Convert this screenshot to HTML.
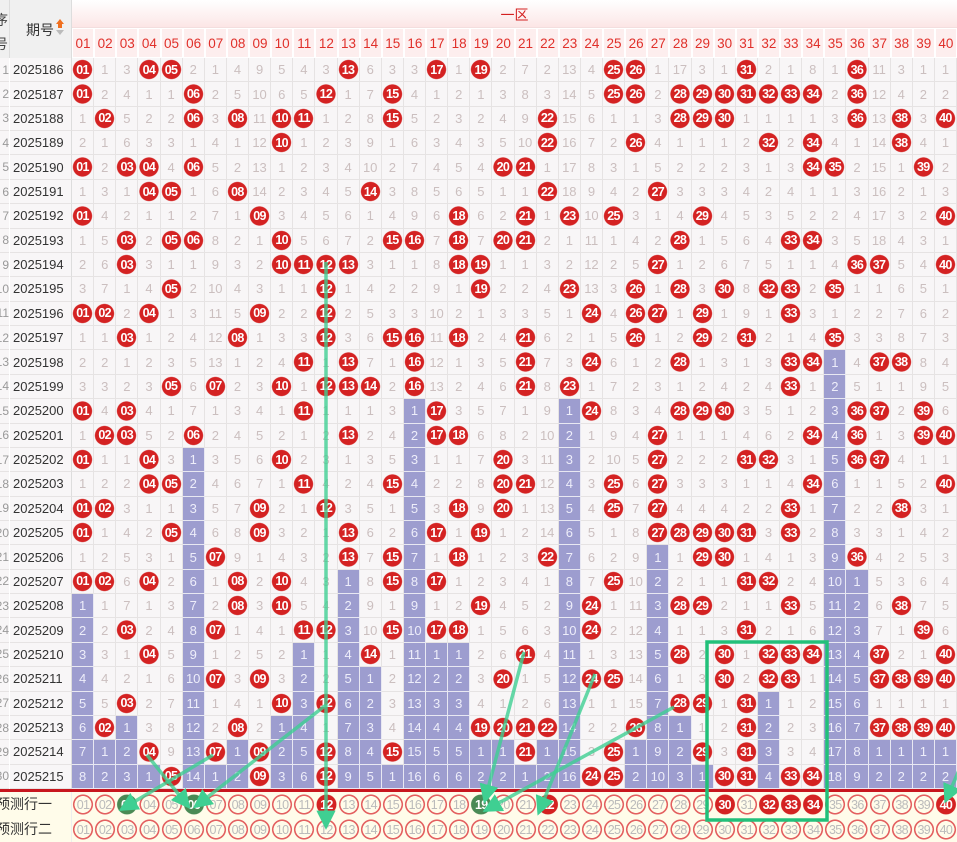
<!DOCTYPE html>
<html><head><meta charset="utf-8"><style>
*{margin:0;padding:0;box-sizing:border-box}
body{width:957px;height:842px;overflow:hidden;background:#fff;position:relative;font-family:"Liberation Sans","Noto Sans CJK SC",sans-serif}
.g{position:absolute;left:72px;top:58px;width:885px;height:731px;display:grid;grid-template-columns:repeat(40,1fr);grid-template-rows:repeat(30,1fr);grid-auto-flow:column}
.g i,.g b,.g u{display:flex;align-items:center;justify-content:center;font-style:normal;text-decoration:none;border-right:1px solid #e6e3e3;border-bottom:1px solid #e6e3e3;font-size:13px;font-weight:normal}
.g i{color:#cbbfbf;background:#f8f6f7}
.g u{background:#9d9dcf;color:#eeeefa;border-color:#e8e8f2}
.g b{color:#fff;font-weight:bold;font-size:12.5px;letter-spacing:-.6px;background:radial-gradient(circle,#d42222 9.2px,#f8f6f7 10px)}
.q{position:absolute;left:10px;top:58px;width:62px;height:731px;display:grid;grid-template-rows:repeat(30,1fr);background:#f8f6f7}
.q div{font-size:13px;color:#333;display:flex;align-items:center;padding-left:3px;border-bottom:1px solid #e6e3e3;border-right:1px solid #ddd}
.ix{position:absolute;left:-16px;top:58px;width:25px;height:731px;display:grid;grid-template-rows:repeat(30,1fr);background:#f8f6f7}
.ix div{font-size:12px;color:#999;display:flex;align-items:center;justify-content:flex-end;border-bottom:1px solid #e6e3e3}
.h1{position:absolute;left:72px;top:0;width:885px;height:28px;background:linear-gradient(#fff,#fce6e6);color:#d42020;font-size:14px;text-align:center;line-height:30px;border-bottom:1px solid #f3dede}
.h2{position:absolute;left:72px;top:28px;width:885px;height:30px;display:grid;grid-template-columns:repeat(40,1fr)}
.h2 span{color:#e0302a;font-size:13.5px;display:flex;align-items:center;justify-content:center;background:#fdeeee;border:1px solid #fff}
.lh{position:absolute;left:0;top:0;height:58px;background:#f0f0f0;border-right:1px solid #ddd}
.p{position:absolute;left:72px;width:885px;height:25px;display:grid;grid-template-columns:repeat(40,1fr);background:#fffcea}
.p span{display:flex;align-items:center;justify-content:center;font-size:12.5px;letter-spacing:-.6px}
.o{color:#bbb}
.o,.f{position:relative}
.p .o{background:radial-gradient(circle,transparent 8.3px,#e36060 8.6px,#e36060 9.8px,transparent 10.3px)}
.p .f{color:#fff;font-weight:bold;background:radial-gradient(circle,#d42222 9.6px,transparent 10.3px)}
.p .d{color:#fff;font-weight:bold;background:radial-gradient(circle,#4a8a55 9.6px,transparent 10.3px)}
.pl{position:absolute;left:-4px;width:76px;height:25px;font-size:14px;color:#333;line-height:25px;background:#fffcea;border-right:1px solid #eee}
</style></head><body>
<div class="lh" style="width:10px"><div style="position:absolute;left:-6px;top:8px;font-size:14px;color:#444;line-height:24px">序<br>号</div></div>
<div class="lh" style="left:10px;width:62px"><div style="position:absolute;left:16px;top:20px;font-size:14px;color:#333">期号</div><div style="position:absolute;left:46px;top:19px;width:0;height:0;border:4px solid transparent;border-bottom:5px solid #f07020;border-top:0"></div><div style="position:absolute;left:48px;top:24px;width:4px;height:4px;background:#f07020"></div><div style="position:absolute;left:46px;top:30px;width:0;height:0;border:4px solid transparent;border-top:5px solid #bbb;border-bottom:0"></div></div>
<div class="h1">一区</div>
<div class="h2"><span>01</span><span>02</span><span>03</span><span>04</span><span>05</span><span>06</span><span>07</span><span>08</span><span>09</span><span>10</span><span>11</span><span>12</span><span>13</span><span>14</span><span>15</span><span>16</span><span>17</span><span>18</span><span>19</span><span>20</span><span>21</span><span>22</span><span>23</span><span>24</span><span>25</span><span>26</span><span>27</span><span>28</span><span>29</span><span>30</span><span>31</span><span>32</span><span>33</span><span>34</span><span>35</span><span>36</span><span>37</span><span>38</span><span>39</span><span>40</span></div>
<div class="ix"><div>1</div><div>2</div><div>3</div><div>4</div><div>5</div><div>6</div><div>7</div><div>8</div><div>9</div><div>10</div><div>11</div><div>12</div><div>13</div><div>14</div><div>15</div><div>16</div><div>17</div><div>18</div><div>19</div><div>20</div><div>21</div><div>22</div><div>23</div><div>24</div><div>25</div><div>26</div><div>27</div><div>28</div><div>29</div><div>30</div></div>
<div class="q"><div>2025186</div><div>2025187</div><div>2025188</div><div>2025189</div><div>2025190</div><div>2025191</div><div>2025192</div><div>2025193</div><div>2025194</div><div>2025195</div><div>2025196</div><div>2025197</div><div>2025198</div><div>2025199</div><div>2025200</div><div>2025201</div><div>2025202</div><div>2025203</div><div>2025204</div><div>2025205</div><div>2025206</div><div>2025207</div><div>2025208</div><div>2025209</div><div>2025210</div><div>2025211</div><div>2025212</div><div>2025213</div><div>2025214</div><div>2025215</div></div>
<div class="g">
<b>01</b><b>01</b><i>1</i><i>2</i><b>01</b><i>1</i><b>01</b><i>1</i><i>2</i><i>3</i><b>01</b><i>1</i><i>2</i><i>3</i><b>01</b><i>1</i><b>01</b><i>1</i><b>01</b><b>01</b><i>1</i><b>01</b><u>1</u><u>2</u><u>3</u><u>4</u><u>5</u><u>6</u><u>7</u><u>8</u>
<i>1</i><i>2</i><b>02</b><i>1</i><i>2</i><i>3</i><i>4</i><i>5</i><i>6</i><i>7</i><b>02</b><i>1</i><i>2</i><i>3</i><i>4</i><b>02</b><i>1</i><i>2</i><b>02</b><i>1</i><i>2</i><b>02</b><i>1</i><i>2</i><i>3</i><i>4</i><i>5</i><b>02</b><u>1</u><u>2</u>
<i>3</i><i>4</i><i>5</i><i>6</i><b>03</b><i>1</i><i>2</i><b>03</b><b>03</b><i>1</i><i>2</i><b>03</b><i>1</i><i>2</i><b>03</b><b>03</b><i>1</i><i>2</i><i>3</i><i>4</i><i>5</i><i>6</i><i>7</i><b>03</b><i>1</i><i>2</i><b>03</b><u>1</u><u>2</u><u>3</u>
<b>04</b><i>1</i><i>2</i><i>3</i><b>04</b><b>04</b><i>1</i><i>2</i><i>3</i><i>4</i><b>04</b><i>1</i><i>2</i><i>3</i><i>4</i><i>5</i><b>04</b><b>04</b><i>1</i><i>2</i><i>3</i><b>04</b><i>1</i><i>2</i><b>04</b><i>1</i><i>2</i><i>3</i><b>04</b><u>1</u>
<b>05</b><i>1</i><i>2</i><i>3</i><i>4</i><b>05</b><i>1</i><b>05</b><i>1</i><b>05</b><i>1</i><i>2</i><i>3</i><b>05</b><i>1</i><i>2</i><i>3</i><b>05</b><i>1</i><b>05</b><i>1</i><i>2</i><i>3</i><i>4</i><i>5</i><i>6</i><i>7</i><i>8</i><i>9</i><b>05</b>
<i>2</i><b>06</b><b>06</b><i>1</i><b>06</b><i>1</i><i>2</i><b>06</b><i>1</i><i>2</i><i>3</i><i>4</i><i>5</i><i>6</i><i>7</i><b>06</b><u>1</u><u>2</u><u>3</u><u>4</u><u>5</u><u>6</u><u>7</u><u>8</u><u>9</u><u>10</u><u>11</u><u>12</u><u>13</u><u>14</u>
<i>1</i><i>2</i><i>3</i><i>4</i><i>5</i><i>6</i><i>7</i><i>8</i><i>9</i><i>10</i><i>11</i><i>12</i><i>13</i><b>07</b><i>1</i><i>2</i><i>3</i><i>4</i><i>5</i><i>6</i><b>07</b><i>1</i><i>2</i><b>07</b><i>1</i><b>07</b><i>1</i><i>2</i><b>07</b><u>1</u>
<i>4</i><i>5</i><b>08</b><i>1</i><i>2</i><b>08</b><i>1</i><i>2</i><i>3</i><i>4</i><i>5</i><b>08</b><i>1</i><i>2</i><i>3</i><i>4</i><i>5</i><i>6</i><i>7</i><i>8</i><i>9</i><b>08</b><b>08</b><i>1</i><i>2</i><i>3</i><i>4</i><b>08</b><u>1</u><u>2</u>
<i>9</i><i>10</i><i>11</i><i>12</i><i>13</i><i>14</i><b>09</b><i>1</i><i>2</i><i>3</i><b>09</b><i>1</i><i>2</i><i>3</i><i>4</i><i>5</i><i>6</i><i>7</i><b>09</b><b>09</b><i>1</i><i>2</i><i>3</i><i>4</i><i>5</i><b>09</b><i>1</i><i>2</i><b>09</b><b>09</b>
<i>5</i><i>6</i><b>10</b><b>10</b><i>1</i><i>2</i><i>3</i><b>10</b><b>10</b><i>1</i><i>2</i><i>3</i><i>4</i><b>10</b><i>1</i><i>2</i><b>10</b><i>1</i><i>2</i><i>3</i><i>4</i><b>10</b><b>10</b><i>1</i><i>2</i><i>3</i><b>10</b><u>1</u><u>2</u><u>3</u>
<i>4</i><i>5</i><b>11</b><i>1</i><i>2</i><i>3</i><i>4</i><i>5</i><b>11</b><i>1</i><i>2</i><i>3</i><b>11</b><i>1</i><b>11</b><i>1</i><i>2</i><b>11</b><i>1</i><i>2</i><i>3</i><i>4</i><i>5</i><b>11</b><u>1</u><u>2</u><u>3</u><u>4</u><u>5</u><u>6</u>
<i>3</i><b>12</b><i>1</i><i>2</i><i>3</i><i>4</i><i>5</i><i>6</i><b>12</b><b>12</b><b>12</b><b>12</b><i>1</i><b>12</b><i>1</i><i>2</i><i>3</i><i>4</i><b>12</b><i>1</i><i>2</i><i>3</i><i>4</i><b>12</b><i>1</i><i>2</i><b>12</b><i>1</i><b>12</b><b>12</b>
<b>13</b><i>1</i><i>2</i><i>3</i><i>4</i><i>5</i><i>6</i><i>7</i><b>13</b><i>1</i><i>2</i><i>3</i><b>13</b><b>13</b><i>1</i><b>13</b><i>1</i><i>2</i><i>3</i><b>13</b><b>13</b><u>1</u><u>2</u><u>3</u><u>4</u><u>5</u><u>6</u><u>7</u><u>8</u><u>9</u>
<i>6</i><i>7</i><i>8</i><i>9</i><i>10</i><b>14</b><i>1</i><i>2</i><i>3</i><i>4</i><i>5</i><i>6</i><i>7</i><b>14</b><i>1</i><i>2</i><i>3</i><i>4</i><i>5</i><i>6</i><i>7</i><i>8</i><i>9</i><i>10</i><b>14</b><u>1</u><u>2</u><u>3</u><u>4</u><u>5</u>
<i>3</i><b>15</b><b>15</b><i>1</i><i>2</i><i>3</i><i>4</i><b>15</b><i>1</i><i>2</i><i>3</i><b>15</b><i>1</i><i>2</i><i>3</i><i>4</i><i>5</i><b>15</b><i>1</i><i>2</i><b>15</b><b>15</b><i>1</i><b>15</b><i>1</i><i>2</i><i>3</i><i>4</i><b>15</b><u>1</u>
<i>3</i><i>4</i><i>5</i><i>6</i><i>7</i><i>8</i><i>9</i><b>16</b><i>1</i><i>2</i><i>3</i><b>16</b><b>16</b><b>16</b><u>1</u><u>2</u><u>3</u><u>4</u><u>5</u><u>6</u><u>7</u><u>8</u><u>9</u><u>10</u><u>11</u><u>12</u><u>13</u><u>14</u><u>15</u><u>16</u>
<b>17</b><i>1</i><i>2</i><i>3</i><i>4</i><i>5</i><i>6</i><i>7</i><i>8</i><i>9</i><i>10</i><i>11</i><i>12</i><i>13</i><b>17</b><b>17</b><i>1</i><i>2</i><i>3</i><b>17</b><i>1</i><b>17</b><i>1</i><b>17</b><u>1</u><u>2</u><u>3</u><u>4</u><u>5</u><u>6</u>
<i>1</i><i>2</i><i>3</i><i>4</i><i>5</i><i>6</i><b>18</b><b>18</b><b>18</b><i>1</i><i>2</i><b>18</b><i>1</i><i>2</i><i>3</i><b>18</b><i>1</i><i>2</i><b>18</b><i>1</i><b>18</b><i>1</i><i>2</i><b>18</b><u>1</u><u>2</u><u>3</u><u>4</u><u>5</u><u>6</u>
<b>19</b><i>1</i><i>2</i><i>3</i><i>4</i><i>5</i><i>6</i><i>7</i><b>19</b><b>19</b><i>1</i><i>2</i><i>3</i><i>4</i><i>5</i><i>6</i><i>7</i><i>8</i><i>9</i><b>19</b><i>1</i><i>2</i><b>19</b><i>1</i><i>2</i><i>3</i><i>4</i><b>19</b><u>1</u><u>2</u>
<i>2</i><i>3</i><i>4</i><i>5</i><b>20</b><i>1</i><i>2</i><b>20</b><i>1</i><i>2</i><i>3</i><i>4</i><i>5</i><i>6</i><i>7</i><i>8</i><b>20</b><b>20</b><b>20</b><i>1</i><i>2</i><i>3</i><i>4</i><i>5</i><i>6</i><b>20</b><i>1</i><b>20</b><u>1</u><u>2</u>
<i>7</i><i>8</i><i>9</i><i>10</i><b>21</b><i>1</i><b>21</b><b>21</b><i>1</i><i>2</i><i>3</i><b>21</b><b>21</b><b>21</b><i>1</i><i>2</i><i>3</i><b>21</b><i>1</i><i>2</i><i>3</i><i>4</i><i>5</i><i>6</i><b>21</b><i>1</i><i>2</i><b>21</b><b>21</b><u>1</u>
<i>2</i><i>3</i><b>22</b><b>22</b><i>1</i><b>22</b><i>1</i><i>2</i><i>3</i><i>4</i><i>5</i><i>6</i><i>7</i><i>8</i><i>9</i><i>10</i><i>11</i><i>12</i><i>13</i><i>14</i><b>22</b><i>1</i><i>2</i><i>3</i><i>4</i><i>5</i><i>6</i><b>22</b><u>1</u><u>2</u>
<i>13</i><i>14</i><i>15</i><i>16</i><i>17</i><i>18</i><b>23</b><i>1</i><i>2</i><b>23</b><i>1</i><i>2</i><i>3</i><b>23</b><u>1</u><u>2</u><u>3</u><u>4</u><u>5</u><u>6</u><u>7</u><u>8</u><u>9</u><u>10</u><u>11</u><u>12</u><u>13</u><u>14</u><u>15</u><u>16</u>
<i>4</i><i>5</i><i>6</i><i>7</i><i>8</i><i>9</i><i>10</i><i>11</i><i>12</i><i>13</i><b>24</b><i>1</i><b>24</b><i>1</i><b>24</b><i>1</i><i>2</i><i>3</i><i>4</i><i>5</i><i>6</i><i>7</i><b>24</b><b>24</b><i>1</i><b>24</b><i>1</i><i>2</i><i>3</i><b>24</b>
<b>25</b><b>25</b><i>1</i><i>2</i><i>3</i><i>4</i><b>25</b><i>1</i><i>2</i><i>3</i><i>4</i><i>5</i><i>6</i><i>7</i><i>8</i><i>9</i><i>10</i><b>25</b><b>25</b><i>1</i><i>2</i><b>25</b><i>1</i><i>2</i><i>3</i><b>25</b><i>1</i><i>2</i><b>25</b><b>25</b>
<b>26</b><b>26</b><i>1</i><b>26</b><i>1</i><i>2</i><i>3</i><i>4</i><i>5</i><b>26</b><b>26</b><b>26</b><i>1</i><i>2</i><i>3</i><i>4</i><i>5</i><i>6</i><i>7</i><i>8</i><i>9</i><i>10</i><i>11</i><i>12</i><i>13</i><i>14</i><i>15</i><b>26</b><u>1</u><u>2</u>
<i>1</i><i>2</i><i>3</i><i>4</i><i>5</i><b>27</b><i>1</i><i>2</i><b>27</b><i>1</i><b>27</b><i>1</i><i>2</i><i>3</i><i>4</i><b>27</b><b>27</b><b>27</b><b>27</b><b>27</b><u>1</u><u>2</u><u>3</u><u>4</u><u>5</u><u>6</u><u>7</u><u>8</u><u>9</u><u>10</u>
<i>17</i><b>28</b><b>28</b><i>1</i><i>2</i><i>3</i><i>4</i><b>28</b><i>1</i><b>28</b><i>1</i><i>2</i><b>28</b><i>1</i><b>28</b><i>1</i><i>2</i><i>3</i><i>4</i><b>28</b><i>1</i><i>2</i><b>28</b><i>1</i><b>28</b><i>1</i><b>28</b><u>1</u><u>2</u><u>3</u>
<i>3</i><b>29</b><b>29</b><i>1</i><i>2</i><i>3</i><b>29</b><i>1</i><i>2</i><i>3</i><b>29</b><b>29</b><i>1</i><i>2</i><b>29</b><i>1</i><i>2</i><i>3</i><i>4</i><b>29</b><b>29</b><i>1</i><b>29</b><i>1</i><i>2</i><i>3</i><b>29</b><i>1</i><b>29</b><u>1</u>
<i>1</i><b>30</b><b>30</b><i>1</i><i>2</i><i>3</i><i>4</i><i>5</i><i>6</i><b>30</b><i>1</i><i>2</i><i>3</i><i>4</i><b>30</b><i>1</i><i>2</i><i>3</i><i>4</i><b>30</b><b>30</b><i>1</i><i>2</i><i>3</i><b>30</b><b>30</b><i>1</i><i>2</i><i>3</i><b>30</b>
<b>31</b><b>31</b><i>1</i><i>2</i><i>3</i><i>4</i><i>5</i><i>6</i><i>7</i><i>8</i><i>9</i><b>31</b><i>1</i><i>2</i><i>3</i><i>4</i><b>31</b><i>1</i><i>2</i><b>31</b><i>1</i><b>31</b><i>1</i><b>31</b><i>1</i><i>2</i><b>31</b><b>31</b><b>31</b><b>31</b>
<i>2</i><b>32</b><i>1</i><b>32</b><i>1</i><i>2</i><i>3</i><i>4</i><i>5</i><b>32</b><i>1</i><i>2</i><i>3</i><i>4</i><i>5</i><i>6</i><b>32</b><i>1</i><i>2</i><i>3</i><i>4</i><b>32</b><i>1</i><i>2</i><b>32</b><b>32</b><u>1</u><u>2</u><u>3</u><u>4</u>
<i>1</i><b>33</b><i>1</i><i>2</i><i>3</i><i>4</i><i>5</i><b>33</b><i>1</i><b>33</b><b>33</b><i>1</i><b>33</b><b>33</b><i>1</i><i>2</i><i>3</i><i>4</i><b>33</b><b>33</b><i>1</i><i>2</i><b>33</b><i>1</i><b>33</b><b>33</b><i>1</i><i>2</i><i>3</i><b>33</b>
<i>8</i><b>34</b><i>1</i><b>34</b><b>34</b><i>1</i><i>2</i><b>34</b><i>1</i><i>2</i><i>3</i><i>4</i><b>34</b><i>1</i><i>2</i><b>34</b><i>1</i><b>34</b><i>1</i><i>2</i><i>3</i><i>4</i><i>5</i><i>6</i><b>34</b><i>1</i><i>2</i><i>3</i><i>4</i><b>34</b>
<i>1</i><i>2</i><i>3</i><i>4</i><b>35</b><i>1</i><i>2</i><i>3</i><i>4</i><b>35</b><i>1</i><b>35</b><u>1</u><u>2</u><u>3</u><u>4</u><u>5</u><u>6</u><u>7</u><u>8</u><u>9</u><u>10</u><u>11</u><u>12</u><u>13</u><u>14</u><u>15</u><u>16</u><u>17</u><u>18</u>
<b>36</b><b>36</b><b>36</b><i>1</i><i>2</i><i>3</i><i>4</i><i>5</i><b>36</b><i>1</i><i>2</i><i>3</i><i>4</i><i>5</i><b>36</b><b>36</b><b>36</b><i>1</i><i>2</i><i>3</i><b>36</b><u>1</u><u>2</u><u>3</u><u>4</u><u>5</u><u>6</u><u>7</u><u>8</u><u>9</u>
<i>11</i><i>12</i><i>13</i><i>14</i><i>15</i><i>16</i><i>17</i><i>18</i><b>37</b><i>1</i><i>2</i><i>3</i><b>37</b><i>1</i><b>37</b><i>1</i><b>37</b><i>1</i><i>2</i><i>3</i><i>4</i><i>5</i><i>6</i><i>7</i><b>37</b><b>37</b><i>1</i><b>37</b><u>1</u><u>2</u>
<i>3</i><i>4</i><b>38</b><b>38</b><i>1</i><i>2</i><i>3</i><i>4</i><i>5</i><i>6</i><i>7</i><i>8</i><b>38</b><i>1</i><i>2</i><i>3</i><i>4</i><i>5</i><b>38</b><i>1</i><i>2</i><i>3</i><b>38</b><i>1</i><i>2</i><b>38</b><i>1</i><b>38</b><u>1</u><u>2</u>
<i>1</i><i>2</i><i>3</i><i>4</i><b>39</b><i>1</i><i>2</i><i>3</i><i>4</i><i>5</i><i>6</i><i>7</i><i>8</i><i>9</i><b>39</b><b>39</b><i>1</i><i>2</i><i>3</i><i>4</i><i>5</i><i>6</i><i>7</i><b>39</b><i>1</i><b>39</b><i>1</i><b>39</b><u>1</u><u>2</u>
<i>1</i><i>2</i><b>40</b><i>1</i><i>2</i><i>3</i><b>40</b><i>1</i><b>40</b><i>1</i><i>2</i><i>3</i><i>4</i><i>5</i><i>6</i><b>40</b><i>1</i><b>40</b><i>1</i><i>2</i><i>3</i><i>4</i><i>5</i><i>6</i><b>40</b><b>40</b><i>1</i><b>40</b><u>1</u><u>2</u>
</div>
<div style="position:absolute;left:0;top:789px;width:957px;height:3px;background:#c8161e"></div>
<div class="pl" style="top:792px">预测行一</div>
<div class="pl" style="top:817px">预测行二</div>
<div class="p" style="top:792px"><span class="o">01</span><span class="o">02</span><span class="d">03</span><span class="o">04</span><span class="o">05</span><span class="d">06</span><span class="o">07</span><span class="o">08</span><span class="o">09</span><span class="o">10</span><span class="o">11</span><span class="f">12</span><span class="o">13</span><span class="o">14</span><span class="o">15</span><span class="o">16</span><span class="o">17</span><span class="o">18</span><span class="d">19</span><span class="o">20</span><span class="o">21</span><span class="f">22</span><span class="o">23</span><span class="o">24</span><span class="o">25</span><span class="o">26</span><span class="o">27</span><span class="o">28</span><span class="o">29</span><span class="f">30</span><span class="o">31</span><span class="f">32</span><span class="f">33</span><span class="f">34</span><span class="o">35</span><span class="o">36</span><span class="o">37</span><span class="o">38</span><span class="o">39</span><span class="f">40</span></div>
<div class="p" style="top:817px"><span class="o">01</span><span class="o">02</span><span class="o">03</span><span class="o">04</span><span class="o">05</span><span class="o">06</span><span class="o">07</span><span class="o">08</span><span class="o">09</span><span class="o">10</span><span class="o">11</span><span class="o">12</span><span class="o">13</span><span class="o">14</span><span class="o">15</span><span class="o">16</span><span class="o">17</span><span class="o">18</span><span class="o">19</span><span class="o">20</span><span class="o">21</span><span class="o">22</span><span class="o">23</span><span class="o">24</span><span class="o">25</span><span class="o">26</span><span class="o">27</span><span class="o">28</span><span class="o">29</span><span class="o">30</span><span class="o">31</span><span class="o">32</span><span class="o">33</span><span class="o">34</span><span class="o">35</span><span class="o">36</span><span class="o">37</span><span class="o">38</span><span class="o">39</span><span class="o">40</span></div>
<svg style="position:absolute;left:0;top:0" width="957" height="842">
<defs><marker id="a" viewBox="0 0 10 10" refX="8" refY="5" markerWidth="5.5" markerHeight="5.5" orient="auto"><path d="M0,0L10,5L0,10z" fill="#3fcf92"/></marker></defs>
<g stroke="#3fcf92" stroke-width="3.5" stroke-opacity=".8" fill="none" marker-end="url(#a)">
<line x1="326" y1="262" x2="326" y2="826"/>
<line x1="326" y1="705" x2="196" y2="806"/>
<line x1="213" y1="755" x2="122" y2="809"/>
<line x1="147" y1="755" x2="188" y2="806"/>
<line x1="524" y1="652" x2="485" y2="800"/>
<line x1="595" y1="674" x2="539" y2="812"/>
<line x1="674" y1="707" x2="486" y2="810"/>
<line x1="960" y1="768" x2="946" y2="800"/>
</g>
<rect x="707" y="642" width="120" height="178" fill="none" stroke="#22c07a" stroke-width="3.5"/>
</svg>
</body></html>
